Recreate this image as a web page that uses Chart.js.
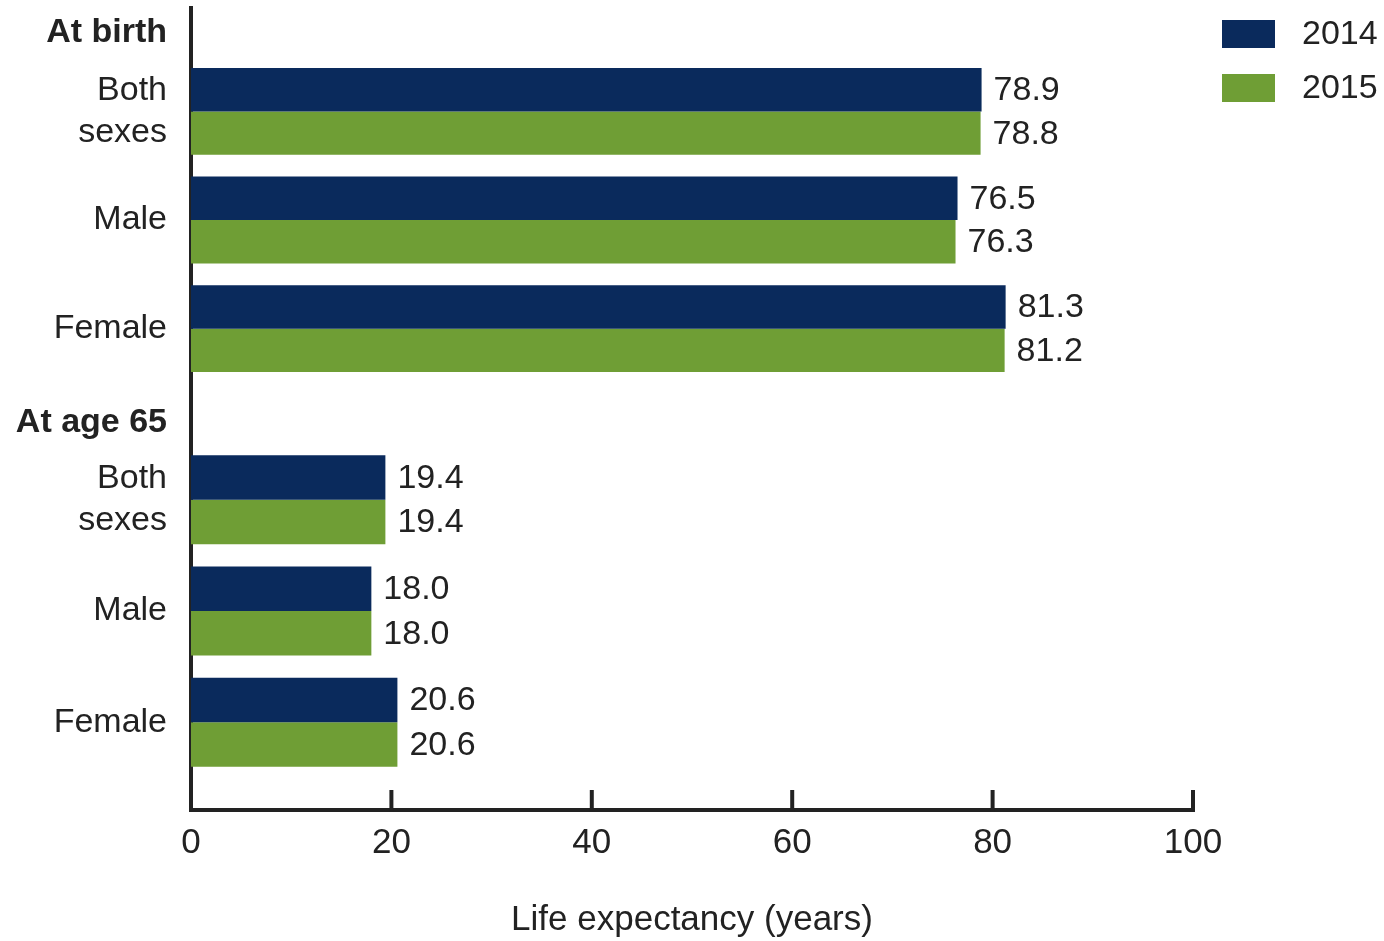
<!DOCTYPE html>
<html>
<head>
<meta charset="utf-8">
<script src="https://cdn.jsdelivr.net/npm/chart.js@4/dist/chart.umd.min.js"></script>
<style>
  html, body { margin: 0; padding: 0; background: #fff; }
  #wrap { width: 1384px; height: 941px; }
</style>
</head>
<body>
<div id="wrap"><canvas id="lifeChart"></canvas></div>
<script>
const rowLabels = [["Both", "sexes"], "Male", "Female"];
const birthHeader = "At birth";
const ageHeader = "At age 65";
const years = ["2014", "2015"];
const birth2014 = [78.9, 76.5, 81.3];
const birth2015 = [78.8, 76.3, 81.2];
const age2014 = [19.4, 18.0, 20.6];
const age2015 = [19.4, 18.0, 20.6];
const xTicks = [0, 20, 40, 60, 80, 100];

const navy = "#0a2a5c";
const green = "#6f9e35";
const ink = "#222";
const family = '"Liberation Sans", Arial, sans-serif';
Chart.defaults.font.family = family;
Chart.defaults.color = ink;

// each block (at birth / at 65) sits on its own y axis, so bars of one block
// must not keep room for the other block's axis
class RowBarController extends Chart.BarController {
  _getAxis() { return [this._cachedMeta.yAxisID]; }
}
RowBarController.id = "rowBar";
Chart.register(RowBarController);

// numbers written at the end of each bar
const barValues = {
  id: "barValues",
  afterDatasetsDraw(chart) {
    const ctx = chart.ctx;
    ctx.save();
    ctx.font = "34px " + family;
    ctx.fillStyle = ink;
    ctx.textAlign = "left";
    ctx.textBaseline = "middle";
    chart.data.datasets.forEach((ds, i) => {
      chart.getDatasetMeta(i).data.forEach((bar, j) => {
        ctx.fillText(ds.data[j].toFixed(1), bar.x + 12, bar.y + 1);
      });
    });
    ctx.restore();
  }
};

// x tick marks point up into the plot
const upTicks = {
  id: "upTicks",
  afterDraw(chart) {
    const x = chart.scales.x, ctx = chart.ctx;
    const bottom = chart.chartArea.bottom;
    ctx.save();
    ctx.strokeStyle = ink;
    ctx.lineWidth = 4;
    x.ticks.forEach(t => {
      if (t.value === 0) return;
      const px = x.getPixelForValue(t.value);
      ctx.beginPath();
      ctx.moveTo(px, bottom - 20);
      ctx.lineTo(px, bottom + 2);
      ctx.stroke();
    });
    ctx.restore();
  }
};

// legend in the top right corner, one entry per year
const yearLegend = {
  id: "yearLegend",
  afterDraw(chart) {
    const ctx = chart.ctx;
    const left = chart.chartArea.right + 29;
    ctx.save();
    ctx.font = "34px " + family;
    ctx.textAlign = "left";
    ctx.textBaseline = "middle";
    years.forEach((yr, i) => {
      const top = 20 + i * 54;
      ctx.fillStyle = chart.data.datasets[i].backgroundColor;
      ctx.fillRect(left, top, 53, 28);
      ctx.fillStyle = ink;
      ctx.fillText(yr, left + 80, top + 15);
    });
    ctx.restore();
  }
};

function yAxis(labels, weight, stackWeight, bold, labelOffset) {
  return {
    type: "category",
    labels: labels,
    offset: true,
    stack: "rows",
    stackWeight: stackWeight,
    weight: weight,
    grid: { display: false, drawTicks: false },
    border: { display: true, color: ink, width: 4 },
    ticks: {
      autoSkip: false,
      padding: 24,
      color: ink,
      labelOffset: labelOffset || 0,
      font: { size: 34, lineHeight: 1.25, weight: bold ? "bold" : "normal" }
    },
    afterFit: s => {
      s.width = 191;
      s.paddingTop = 0;
      s.paddingBottom = 0;
    }
  };
}

const barStyle = { categoryPercentage: 0.8, barPercentage: 1.0, borderWidth: 0 };

new Chart(document.getElementById("lifeChart"), {
  type: "rowBar",
  data: {
    datasets: [
      Object.assign({ label: years[0], data: birth2014, yAxisID: "yBirth", backgroundColor: navy }, barStyle),
      Object.assign({ label: years[1], data: birth2015, yAxisID: "yBirth", backgroundColor: green }, barStyle),
      Object.assign({ label: years[0], data: age2014, yAxisID: "yAge", backgroundColor: navy }, barStyle),
      Object.assign({ label: years[1], data: age2015, yAxisID: "yAge", backgroundColor: green }, barStyle)
    ]
  },
  options: {
    indexAxis: "y",
    responsive: true,
    maintainAspectRatio: false,
    animation: false,
    layout: { padding: { top: 8, right: 191, bottom: 0, left: 0 } },
    plugins: {
      legend: { display: false },
      tooltip: { enabled: false }
    },
    scales: {
      x: {
        type: "linear",
        min: 0,
        max: 100,
        afterBuildTicks: s => { s.ticks = xTicks.map(v => ({ value: v })); },
        grid: { display: false, drawTicks: false },
        border: { display: true, color: ink, width: 4 },
        ticks: { padding: 12, color: ink, font: { size: 35 } },
        title: {
          display: true,
          text: "Life expectancy (years)",
          color: ink,
          font: { size: 35 },
          padding: { top: 23, bottom: 0 }
        }
      },
      yHead1: yAxis([birthHeader], 5, 49, true),
      yBirth: yAxis(rowLabels.slice(), 4, 325, false),
      yHead2: yAxis([ageHeader], 3, 61, true, 9),
      yAge: yAxis(rowLabels.slice(), 2, 333, false),
      yPad: yAxis([""], 1, 32, false)
    }
  },
  plugins: [barValues, upTicks, yearLegend]
});
</script>
</body>
</html>
